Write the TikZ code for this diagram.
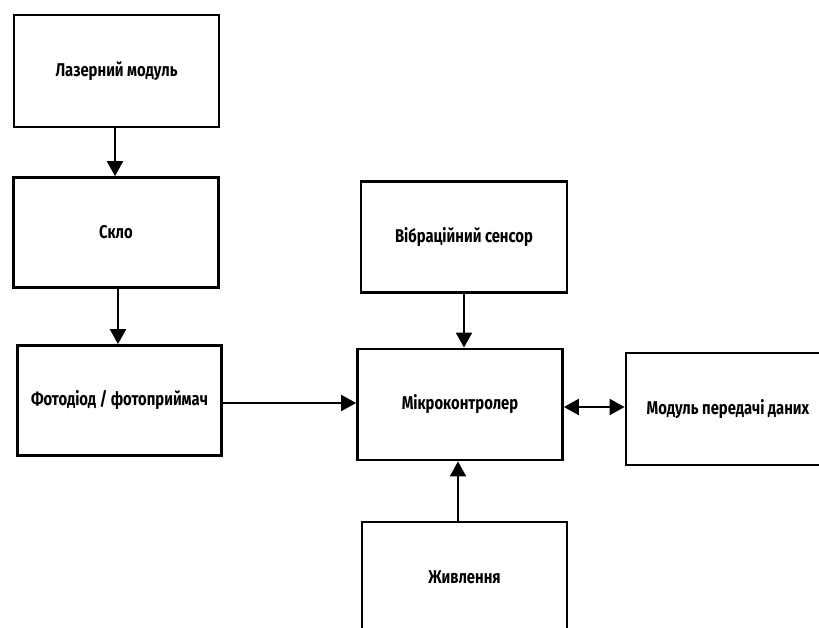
\documentclass[tikz,border=0pt]{standalone}
\usepackage{fontspec}
\setmainfont{Fira Sans}[UprightFont=* Bold, FakeStretch=0.8]
\usetikzlibrary{arrows.meta}
\begin{document}
\begin{tikzpicture}[x=1pt,y=-1pt,
  blk/.style={draw=black, line width=2.8pt, fill=white, inner sep=0pt, font=\fontsize{18.5}{21}\selectfont},
  conn/.style={line width=2.2pt, -{Triangle[length=15pt,width=16pt]}},
  dconn/.style={line width=2.2pt, {Triangle[length=15pt,width=16pt]}-{Triangle[length=15pt,width=16pt]}}]
\useasboundingbox (0,0) rectangle (819,628);
\clip (0,0) rectangle (819,628);
\fill[white] (0,0) rectangle (819,628);
\node[blk, minimum width=205pt, minimum height=112pt] (laser) at (116.5,71) {Лазерний модуль};
\node[blk, minimum width=205pt, minimum height=110pt] (sklo) at (116,232.5) {Скло};
\node[blk, minimum width=204pt, minimum height=110pt] (foto) at (119.5,400.5) {Фотодіод / фотоприймач};
\node[blk, minimum width=206pt, minimum height=111pt] (vibr) at (464,237) {Вібраційний сенсор};
\node[blk, minimum width=205pt, minimum height=111pt] (mcu) at (460,404.5) {Мікроконтролер};
\node[blk, minimum width=204pt, minimum height=112pt] (tx) at (728,409) {Модуль передачі даних};
\node[blk, minimum width=205pt, minimum height=110pt] (pwr) at (464.5,577) {Живлення};
\draw[conn] (laser.south -| 115,0) -- (sklo.north -| 115,0);
\draw[conn] (sklo.south -| 118,0) -- (foto.north -| 118,0);
\draw[conn] (foto.east |- 0,403) -- (mcu.west |- 0,403);
\draw[conn] (vibr.south -| 464,0) -- (mcu.north -| 464,0);
\draw[conn] (pwr.north -| 458,0) -- (mcu.south -| 458,0);
\draw[dconn] (mcu.east |- 0,407) -- (tx.west |- 0,407);
\end{tikzpicture}
\end{document}
